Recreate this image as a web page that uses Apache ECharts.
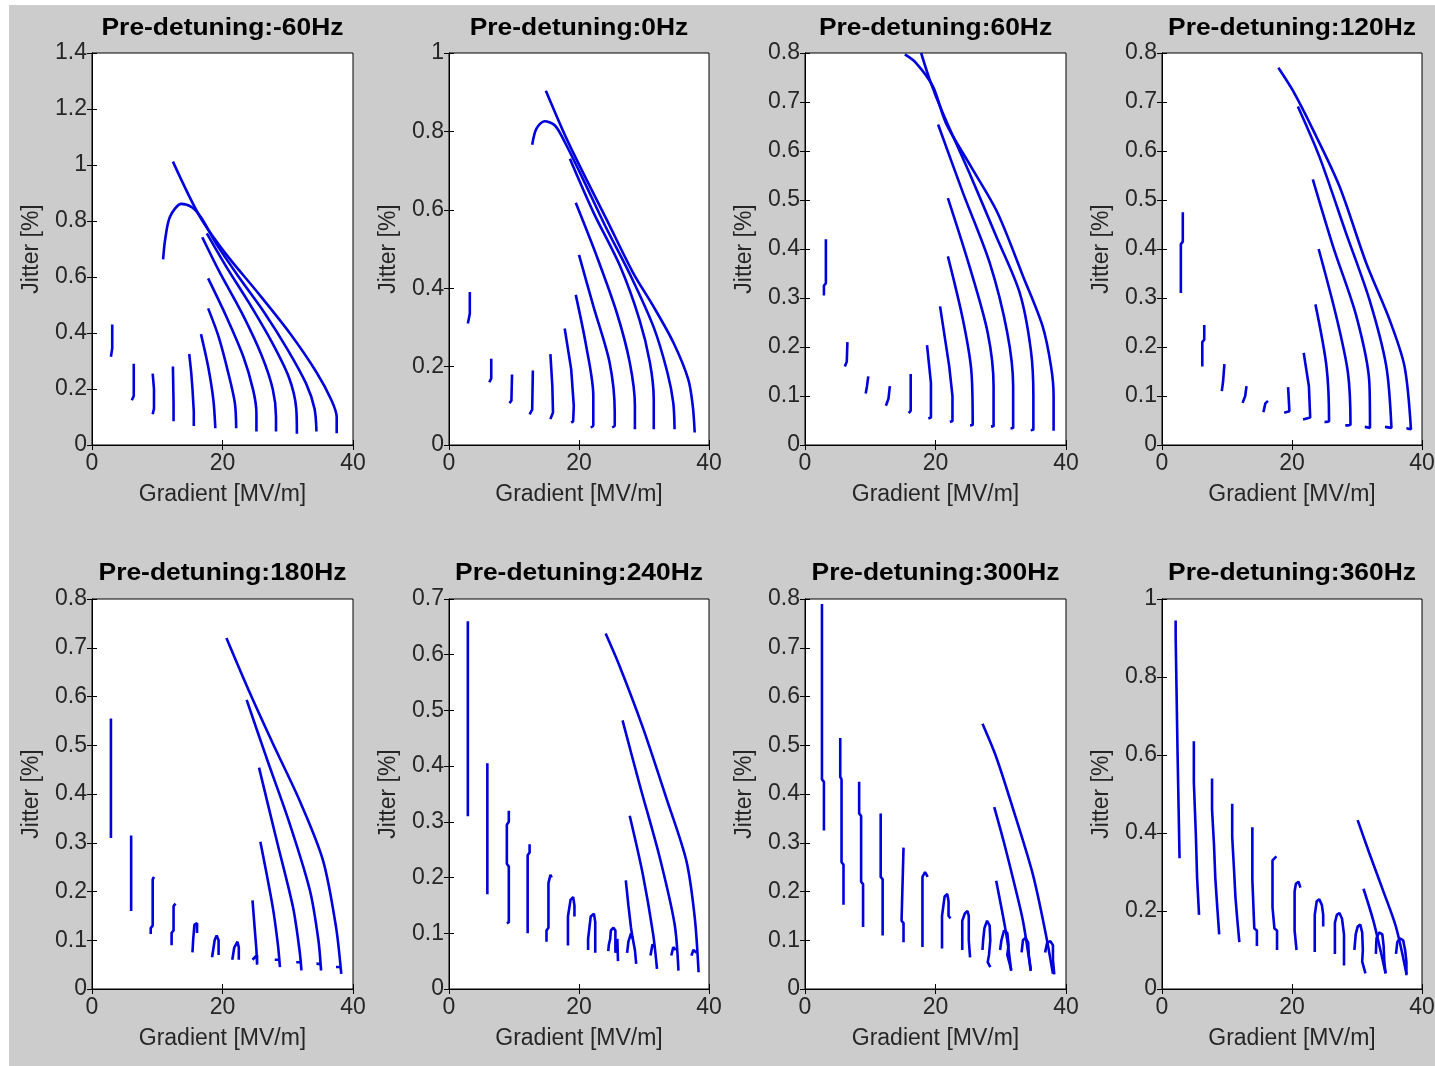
<!DOCTYPE html>
<html><head><meta charset="utf-8">
<script src="https://cdn.jsdelivr.net/npm/echarts@6/dist/echarts.min.js"></script>
<style>
html,body{margin:0;padding:0;background:#fff;}
#bg{position:absolute;left:9px;top:5px;width:1426px;height:1061px;background:#cccccc;}
#chart{position:absolute;left:0;top:0;width:1435px;height:1066px;}
</style>
</head><body><div id="bg"></div><div id="chart"></div>
<script>
// ---------- data ----------
const titles = ['Pre-detuning:-60Hz','Pre-detuning:0Hz','Pre-detuning:60Hz','Pre-detuning:120Hz',
                'Pre-detuning:180Hz','Pre-detuning:240Hz','Pre-detuning:300Hz','Pre-detuning:360Hz'];
const yMaxes = [1.4, 1, 0.8, 0.8, 0.8, 0.7, 0.8, 1];
const yIntervals = [0.2, 0.2, 0.1, 0.1, 0.1, 0.1, 0.1, 0.2];
const xMin = 0, xMax = 40, xInterval = 20;
const xName = 'Gradient [MV/m]';
const yName = 'Jitter [%]';

const curvesM60 = [
  [[3.1,0.43],[3.1,0.345],[2.9,0.34],[2.9,0.315]],
  [[6.4,0.29],[6.4,0.175],[6.1,0.17],[6.1,0.16]],
  [[9.3,0.255],[9.5,0.2],[9.5,0.13],[9.3,0.11]],
  [[12.4,0.28],[12.5,0.15],[12.5,0.085]],
  [[14.9,0.325],[15.2,0.26],[15.4,0.2],[15.6,0.12],[15.6,0.068]],
  [[16.7,0.396],[17.8,0.28],[18.6,0.161],[18.9,0.06]],
  [[17.8,0.488],[19.4,0.387],[20.9,0.256],[21.9,0.149],[22.1,0.06]],
  [[17.8,0.595],[20.6,0.458],[23.2,0.315],[24.7,0.196],[25.2,0.113],[25.2,0.048]],
  [[16.9,0.742],[19.5,0.62],[23.0,0.47],[26.0,0.32],[27.7,0.2],[28.2,0.1],[28.2,0.048]],
  [[17.6,0.756],[20.5,0.64],[24.0,0.51],[27.5,0.37],[30.2,0.24],[31.3,0.13],[31.4,0.04]],
  [[10.9,0.663],[11.2,0.732],[11.95,0.815],[13.7,0.861],[15.3,0.849],[16.8,0.81],[19.0,0.72],[22.5,0.6],[26.5,0.47],[30.0,0.34],[32.8,0.22],[34.1,0.13],[34.4,0.048]],
  [[12.4,1.012],[16.55,0.815],[20.6,0.68],[25.2,0.55],[30.3,0.4],[34.4,0.26],[36.7,0.16],[37.5,0.1],[37.5,0.042]]
];
const curves0 = [
  [[3.2,0.39],[3.2,0.335],[2.9,0.33],[2.9,0.31]],
  [[6.5,0.22],[6.5,0.17],[6.2,0.16]],
  [[9.7,0.18],[9.6,0.113],[9.3,0.107]],
  [[12.9,0.19],[12.8,0.09],[12.4,0.078]],
  [[15.6,0.232],[15.9,0.15],[16.0,0.083],[15.6,0.066]],
  [[17.8,0.297],[18.8,0.193],[19.2,0.1],[19.1,0.06],[18.8,0.057]],
  [[19.5,0.383],[21.1,0.253],[22.2,0.125],[22.2,0.05],[21.8,0.045]],
  [[20.0,0.485],[22.2,0.355],[24.7,0.211],[25.5,0.083],[25.5,0.05],[25.1,0.045]],
  [[19.5,0.618],[22.7,0.483],[25.8,0.338],[27.8,0.211],[28.6,0.1],[28.6,0.04]],
  [[18.6,0.73],[22.2,0.594],[26.3,0.457],[29.3,0.32],[30.9,0.211],[31.5,0.117],[31.5,0.04]],
  [[12.8,0.766],[13.45,0.807],[14.7,0.826],[16.3,0.815],[17.8,0.773],[20.6,0.679],[24.0,0.56],[28.0,0.43],[31.5,0.3],[33.6,0.185],[34.5,0.108],[34.7,0.04]],
  [[14.9,0.904],[18.1,0.781],[21.1,0.679],[24.2,0.577],[28.3,0.44],[31.4,0.355],[34.5,0.262],[36.8,0.168],[37.5,0.1],[37.8,0.032]]
];
const curves60 = [
  [[3.2,0.42],[3.2,0.33],[2.9,0.325],[2.9,0.305]],
  [[6.5,0.21],[6.4,0.17],[6.1,0.16]],
  [[9.7,0.14],[9.5,0.12],[9.3,0.105]],
  [[13.0,0.12],[12.8,0.095],[12.4,0.08]],
  [[16.2,0.145],[16.2,0.07],[15.9,0.065]],
  [[18.7,0.204],[19.3,0.127],[19.3,0.056],[18.9,0.054]],
  [[20.7,0.283],[22.1,0.161],[22.6,0.1],[22.6,0.049],[22.2,0.047]],
  [[21.9,0.385],[24.2,0.256],[25.5,0.15],[25.7,0.042],[25.3,0.04]],
  [[21.9,0.504],[25.2,0.365],[28.0,0.229],[28.9,0.12],[28.9,0.039],[28.5,0.038]],
  [[20.4,0.654],[24.2,0.515],[28.3,0.372],[31.0,0.229],[31.9,0.12],[31.9,0.035],[31.5,0.034]],
  [[17.8,0.8],[19.1,0.746],[21.1,0.678],[25.2,0.555],[29.3,0.426],[32.9,0.311],[34.6,0.195],[35.0,0.1],[35.0,0.032],[34.6,0.03]],
  [[15.3,0.797],[17.0,0.78],[19.6,0.732],[21.6,0.657],[25.4,0.569],[29.5,0.474],[33.4,0.345],[36.4,0.243],[37.7,0.161],[38.1,0.1],[38.1,0.029]]
];
const curves120 = [
  [[3.2,0.475],[3.2,0.415],[2.9,0.41],[2.9,0.31]],
  [[6.5,0.245],[6.5,0.215],[6.2,0.21],[6.2,0.16]],
  [[9.6,0.165],[9.4,0.13],[9.2,0.11]],
  [[13.0,0.12],[12.8,0.1],[12.4,0.086]],
  [[16.3,0.09],[15.9,0.085],[15.6,0.067]],
  [[19.4,0.118],[19.6,0.069],[18.8,0.066]],
  [[21.8,0.188],[22.6,0.12],[22.8,0.056],[21.7,0.052]],
  [[23.6,0.287],[25.3,0.161],[25.7,0.049],[25.0,0.047]],
  [[24.1,0.4],[26.8,0.263],[28.6,0.148],[29.0,0.042],[28.2,0.04]],
  [[23.2,0.542],[26.3,0.406],[29.9,0.263],[31.9,0.127],[32.0,0.035],[31.2,0.037]],
  [[20.9,0.691],[24.2,0.589],[28.3,0.433],[31.9,0.297],[34.5,0.161],[35.3,0.035],[34.3,0.037]],
  [[17.9,0.77],[20.1,0.724],[23.2,0.644],[27.3,0.528],[31.4,0.372],[35.0,0.256],[37.3,0.161],[38.3,0.032],[37.6,0.034]]
];
const curves180 = [
  [[2.9,0.555],[2.9,0.31]],
  [[6.0,0.315],[6.0,0.16]],
  [[9.5,0.23],[9.3,0.225],[9.3,0.13],[9.0,0.125],[9.0,0.113]],
  [[12.8,0.175],[12.5,0.17],[12.5,0.12],[12.2,0.115],[12.2,0.09]],
  [[15.4,0.075],[15.5,0.1],[15.7,0.132],[16.1,0.135],[16.1,0.115]],
  [[18.4,0.065],[18.8,0.1],[19.1,0.11],[19.4,0.1],[19.4,0.07]],
  [[21.5,0.06],[21.8,0.085],[22.3,0.097],[22.5,0.085],[22.5,0.06]],
  [[24.6,0.182],[24.9,0.13],[25.2,0.08],[25.3,0.05],[25.3,0.07],[24.6,0.06]],
  [[25.8,0.302],[27.7,0.168],[28.5,0.09],[28.8,0.045],[28.6,0.06],[28.0,0.06]],
  [[25.6,0.454],[28.3,0.305],[30.8,0.168],[31.8,0.08],[32.1,0.038],[31.9,0.055],[31.3,0.055]],
  [[23.7,0.593],[26.7,0.476],[30.3,0.339],[33.4,0.202],[34.7,0.1],[35.1,0.038],[35.0,0.05],[34.4,0.052]],
  [[20.6,0.72],[24.2,0.607],[27.7,0.504],[31.8,0.387],[35.4,0.264],[37.4,0.127],[38.2,0.031],[38.0,0.045],[37.4,0.045]]
];
const curves240 = [
  [[2.9,0.66],[2.9,0.31]],
  [[5.9,0.405],[5.9,0.17]],
  [[9.2,0.32],[9.2,0.3],[8.9,0.295],[8.9,0.225],[9.2,0.22],[9.2,0.12],[8.9,0.118]],
  [[12.4,0.26],[12.4,0.245],[12.1,0.24],[12.1,0.1]],
  [[15.0,0.085],[15.0,0.105],[15.3,0.11],[15.3,0.19],[15.6,0.205],[15.8,0.2]],
  [[18.3,0.078],[18.3,0.13],[18.6,0.13],[18.7,0.16],[19.1,0.165],[19.3,0.15],[19.3,0.13]],
  [[21.4,0.07],[21.4,0.09],[21.7,0.09],[21.8,0.13],[22.3,0.135],[22.5,0.12],[22.5,0.065]],
  [[24.5,0.068],[24.6,0.08],[24.8,0.09],[24.9,0.105],[25.3,0.11],[25.6,0.105],[25.6,0.065],[25.9,0.09],[26.0,0.05]],
  [[27.2,0.195],[27.6,0.15],[28.0,0.11],[28.2,0.095],[28.6,0.07],[28.8,0.045]],
  [[27.4,0.065],[27.6,0.085],[28.0,0.1],[28.3,0.09]],
  [[27.8,0.311],[29.8,0.207],[31.4,0.099],[32.0,0.036]],
  [[31.0,0.06],[31.3,0.08],[31.7,0.075]],
  [[26.7,0.482],[29.3,0.368],[32.4,0.237],[34.7,0.117],[35.3,0.033]],
  [[34.2,0.06],[34.5,0.075],[34.9,0.07]],
  [[24.1,0.638],[26.3,0.578],[29.8,0.47],[33.4,0.344],[36.5,0.231],[37.8,0.129],[38.4,0.03]],
  [[37.3,0.06],[37.6,0.07],[38.1,0.065]]
];
const curves300 = [
  [[2.6,0.79],[2.6,0.43],[2.9,0.425],[2.9,0.325]],
  [[5.4,0.515],[5.4,0.435],[5.6,0.43],[5.6,0.26],[5.9,0.255],[5.9,0.173]],
  [[8.3,0.425],[8.3,0.36],[8.6,0.355],[8.6,0.22],[8.9,0.215],[8.9,0.127]],
  [[11.6,0.36],[11.6,0.23],[11.9,0.225],[11.9,0.11]],
  [[15.1,0.29],[14.8,0.29],[14.8,0.14],[15.1,0.135],[15.1,0.096]],
  [[18.0,0.086],[18.0,0.23],[18.4,0.24],[18.8,0.23]],
  [[21.0,0.083],[21.0,0.15],[21.3,0.15],[21.4,0.19],[21.8,0.195],[22.0,0.18],[22.0,0.15],[22.3,0.145]],
  [[24.1,0.08],[24.1,0.14],[24.4,0.14],[24.5,0.155],[24.9,0.16],[25.1,0.15],[25.1,0.1],[25.3,0.065]],
  [[27.2,0.08],[27.3,0.1],[27.5,0.125],[27.9,0.14],[28.3,0.13],[28.4,0.1],[28.2,0.07],[28.0,0.055],[28.4,0.045]],
  [[29.3,0.222],[30.2,0.16],[31.0,0.1],[31.6,0.037]],
  [[29.9,0.08],[30.1,0.1],[30.5,0.12],[31.0,0.115],[31.2,0.09],[31.0,0.07],[31.6,0.04]],
  [[29.0,0.373],[30.5,0.3],[32.0,0.22],[33.4,0.14],[34.6,0.037]],
  [[33.2,0.075],[33.4,0.1],[33.8,0.105],[34.2,0.095],[34.3,0.07],[34.6,0.04]],
  [[27.2,0.544],[29.3,0.476],[31.8,0.373],[34.9,0.236],[36.9,0.113],[38.0,0.031]],
  [[36.8,0.075],[37.1,0.095],[37.6,0.098],[38.0,0.09],[38.0,0.06],[38.2,0.03]]
];
const curves360 = [
  [[2.1,0.945],[2.1,0.905],[2.4,0.9],[2.4,0.6],[2.7,0.595],[2.7,0.335]],
  [[4.9,0.635],[4.9,0.53],[5.2,0.525],[5.2,0.4],[5.4,0.395],[5.4,0.285],[5.7,0.28],[5.7,0.19]],
  [[7.7,0.54],[7.7,0.46],[8.0,0.455],[8.0,0.37],[8.2,0.365],[8.2,0.285],[8.5,0.28],[8.5,0.21],[8.8,0.205],[8.8,0.14]],
  [[10.8,0.475],[10.8,0.39],[11.1,0.385],[11.1,0.3],[11.3,0.295],[11.3,0.235],[11.6,0.23],[11.6,0.175],[11.9,0.17],[11.9,0.12]],
  [[13.9,0.415],[13.9,0.28],[14.2,0.275],[14.2,0.155],[14.6,0.15],[14.6,0.11]],
  [[17.6,0.34],[17.3,0.335],[17.0,0.33],[17.0,0.21],[17.3,0.205],[17.3,0.155],[17.7,0.15],[17.7,0.1]],
  [[21.3,0.26],[21.0,0.275],[20.6,0.27],[20.4,0.25],[20.4,0.15],[20.7,0.145],[20.7,0.1]],
  [[23.5,0.095],[23.5,0.19],[23.8,0.225],[24.2,0.23],[24.6,0.215],[24.8,0.19],[24.8,0.16]],
  [[26.6,0.09],[26.6,0.17],[26.9,0.19],[27.3,0.195],[27.7,0.18],[28.0,0.14],[28.0,0.06]],
  [[29.6,0.1],[29.8,0.14],[30.1,0.16],[30.5,0.165],[30.8,0.145],[30.9,0.1],[30.8,0.07],[31.3,0.04]],
  [[31.0,0.257],[32.5,0.176],[33.5,0.107],[34.4,0.04]],
  [[32.9,0.09],[33.0,0.13],[33.4,0.145],[33.9,0.14],[34.1,0.11],[34.2,0.07],[34.4,0.04]],
  [[30.1,0.433],[31.9,0.348],[34.0,0.253],[36.0,0.159],[37.6,0.039]],
  [[36.0,0.09],[36.2,0.12],[36.6,0.13],[37.1,0.125],[37.4,0.1],[37.6,0.07],[37.6,0.035]]
];
const allCurves = [curvesM60, curves0, curves60, curves120, curves180, curves240, curves300, curves360];

// ---------- layout ----------
const colLefts = [92, 449, 805, 1162];
const colWidths = [261, 260, 261, 260];
const rowTops = [53, 599];
const rowHeights = [392, 390];
const titleY = [28, 573];
const FONT = '"Liberation Sans", Arial, Helvetica, sans-serif';
const lineColor = '#0000dc';

const grids = [], xAxes = [], yAxes = [], series = [], graphics = [];
titles.forEach((t, i) => {
  const c = i % 4, r = Math.floor(i / 4);
  grids.push({
    left: colLefts[c], top: rowTops[r], width: colWidths[c], height: rowHeights[r],
    show: true, backgroundColor: '#ffffff', borderColor: '#000', borderWidth: 1,
    containLabel: false, outerBoundsMode: 'none'
  });
  const tick = { show: true, inside: true, length: 5, lineStyle: { color: '#000', width: 1 } };
  const aLine = { show: true, lineStyle: { color: '#000', width: 1 } };
  const lbl = { color: '#262626', fontSize: 23, fontFamily: FONT };
  xAxes.push({
    gridIndex: i, type: 'value', min: xMin, max: xMax, interval: xInterval, position: 'bottom',
    axisLine: aLine, axisTick: tick, splitLine: { show: false },
    axisLabel: Object.assign({ margin: 7 }, lbl),
    name: xName, nameLocation: 'middle', nameGap: 38,
    nameTextStyle: { color: '#262626', fontSize: 23, fontFamily: FONT }
  });
  xAxes.push({
    gridIndex: i, type: 'value', min: xMin, max: xMax, interval: xInterval, position: 'top',
    axisLine: aLine, axisTick: tick, splitLine: { show: false }, axisLabel: { show: false }
  });
  yAxes.push({
    gridIndex: i, type: 'value', min: 0, max: yMaxes[i], interval: yIntervals[i], position: 'left',
    axisLine: aLine, axisTick: tick, splitLine: { show: false },
    axisLabel: Object.assign({ margin: 5 }, lbl),
    name: yName, nameLocation: 'middle', nameGap: 49,
    nameTextStyle: { color: '#262626', fontSize: 23, fontFamily: FONT }
  });
  yAxes.push({
    gridIndex: i, type: 'value', min: 0, max: yMaxes[i], interval: yIntervals[i], position: 'right',
    axisLine: aLine, axisTick: tick, splitLine: { show: false }, axisLabel: { show: false }
  });
  allCurves[i].forEach(curve => {
    const xs = curve.map(p => p[0]);
    const wide = Math.max(...xs) - Math.min(...xs) > 2;
    series.push({
      type: 'line', xAxisIndex: 2 * i, yAxisIndex: 2 * i, data: curve,
      symbol: 'none', showSymbol: false, smooth: wide ? 0.3 : false, clip: true, silent: true,
      lineStyle: { color: lineColor, width: 2.6 }
    });
  });
  graphics.push({
    type: 'text', x: colLefts[c] + colWidths[c] / 2, y: titleY[r], scaleX: 1.1,
    style: { text: t, font: 'bold 24px ' + FONT, fill: '#000', align: 'center', verticalAlign: 'middle' }
  });
});

const chart = echarts.init(document.getElementById('chart'), null, { renderer: 'canvas' });
chart.setOption({
  backgroundColor: 'transparent',
  animation: false,
  grid: grids, xAxis: xAxes, yAxis: yAxes, series: series, graphic: graphics
});
</script>
</body></html>
